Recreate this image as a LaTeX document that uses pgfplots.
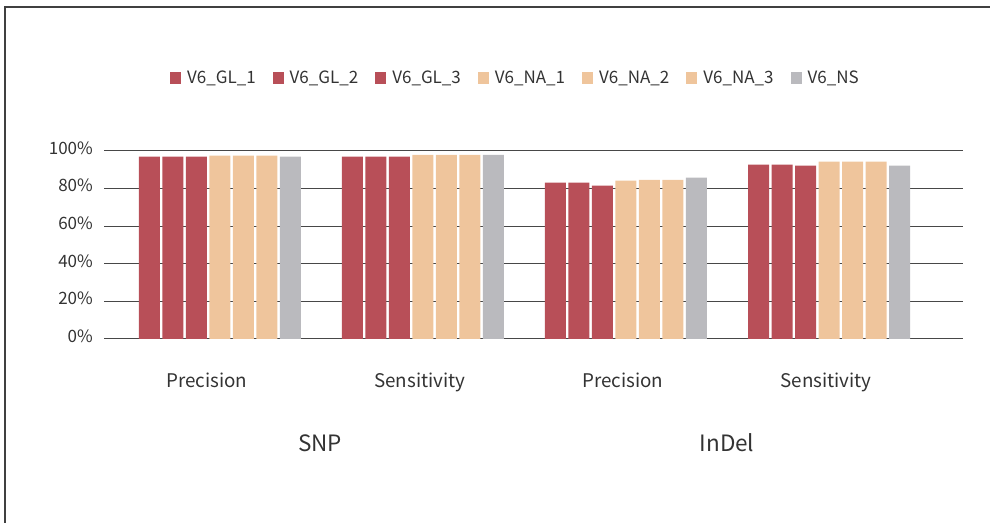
\documentclass[border=0pt]{standalone}
\usepackage{pgfplots}
\pgfplotsset{compat=1.18}
\usepackage{fontspec}
\setmainfont{Noto Sans CJK SC}
\definecolor{cr}{HTML}{B84F58}
\definecolor{cp}{HTML}{EFC59C}
\definecolor{cg}{HTML}{BABABE}
\definecolor{tx}{HTML}{333333}
\pgfplotsset{sq/.style={legend image code/.code={\fill[##1,draw=none] (0bp,-6bp) rectangle (11bp,6bp); \path (15bp,0bp);}}}
\begin{document}
\begin{tikzpicture}
\useasboundingbox (0bp,0bp) rectangle (990bp,523bp);
\clip (0bp,0bp) rectangle (990bp,523bp);
\draw[black!75, line width=1.2bp] (5bp,-20bp) -- (5bp,516bp) -- (1010bp,516bp);
\begin{axis}[
 at={(104bp,184bp)}, anchor=south west,
 scale only axis, width=859bp, height=188bp,
 ybar=2.5bp, bar width=21bp,
 xmin=-0.571, xmax=3.66, ymin=0, ymax=100,
 axis line style={draw=none}, major tick length=0pt,
 ymajorgrids, grid style={black!72, line width=1bp},
 xtick={-0.064,0.985,1.985,2.985}, xticklabels={Precision,Sensitivity,Precision,Sensitivity},
 ytick={0,20,40,60,80,100}, yticklabels={0\%,20\%,40\%,60\%,80\%,100\%},
 xticklabel style={font=\fontsize{18.8bp}{22bp}\selectfont, text=tx, anchor=base, yshift=-49bp},
 yticklabel style={font=\fontsize{17bp}{20bp}\selectfont, text=tx, anchor=east, inner sep=0pt, xshift=-11bp, yshift=3bp},
 legend columns=7,
 legend style={draw=none, fill=none, at={(0.479,1.39)}, anchor=center, font=\fontsize{17bp}{20bp}\selectfont, text=tx, /tikz/every even column/.append style={column sep=15bp}},
]
\addplot[fill=cr, draw=none, sq] coordinates {(0,97.0) (1,97.0) (2,83.2) (3,92.7)};
\addplot[fill=cr, draw=none, sq] coordinates {(0,97.0) (1,97.0) (2,83.2) (3,92.7)};
\addplot[fill=cr, draw=none, sq] coordinates {(0,97.0) (1,97.0) (2,81.6) (3,92.2)};
\addplot[fill=cp, draw=none, sq] coordinates {(0,97.5) (1,98.0) (2,84.2) (3,94.3)};
\addplot[fill=cp, draw=none, sq] coordinates {(0,97.5) (1,98.0) (2,84.7) (3,94.3)};
\addplot[fill=cp, draw=none, sq] coordinates {(0,97.5) (1,98.0) (2,84.7) (3,94.3)};
\addplot[fill=cg, draw=none, sq] coordinates {(0,97.0) (1,98.0) (2,85.8) (3,92.2)};
\legend{V6\_GL\_1,V6\_GL\_2,V6\_GL\_3,V6\_NA\_1,V6\_NA\_2,V6\_NA\_3,V6\_NS}
\end{axis}
\node[font=\fontsize{22.5bp}{26bp}\selectfont, text=tx] at (320bp,80bp) {SNP};
\node[font=\fontsize{22.5bp}{26bp}\selectfont, text=tx] at (727bp,80bp) {InDel};
\end{tikzpicture}
\end{document}
